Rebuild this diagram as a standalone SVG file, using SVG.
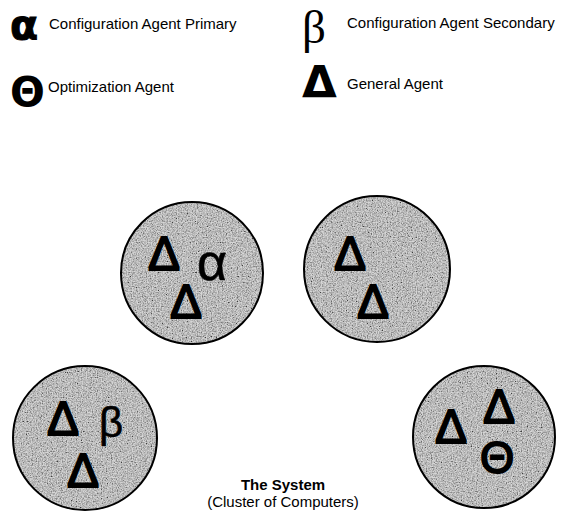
<svg xmlns="http://www.w3.org/2000/svg" width="566" height="515" viewBox="0 0 566 515">
<style>
.lbl{font-family:"Liberation Sans",Arial,sans-serif;font-size:15px;fill:#000}
.tri{font-family:"Liberation Sans",Arial,sans-serif;fill:#000;stroke:#000;stroke-width:1.8px}
.grk{font-family:"Liberation Sans",Arial,sans-serif;fill:#000;stroke:#000;stroke-width:0.6px}
.ser{font-family:"Liberation Serif","Times New Roman",serif;fill:#000}
.bold{font-family:"DejaVu Sans",sans-serif;font-weight:bold;fill:#000}
.comp{fill:#9c9c9c;stroke:none}
.rim{fill:none;stroke:#000;stroke-width:2}
.grain{fill:#fff;filter:url(#noise)}
.cap{font-family:"Liberation Sans",Arial,sans-serif;font-size:15px;fill:#000;text-anchor:middle}
</style>
<defs>
<filter id="noise" x="0" y="0" width="100%" height="100%">
<feTurbulence type="fractalNoise" baseFrequency="0.8" numOctaves="2" seed="7" result="t"/>
<feColorMatrix in="t" type="saturate" values="0" result="g"/>
<feComponentTransfer in="g" result="c">
<feFuncR type="linear" slope="2.6" intercept="-0.68"/>
<feFuncG type="linear" slope="2.6" intercept="-0.68"/>
<feFuncB type="linear" slope="2.6" intercept="-0.68"/>
<feFuncA type="linear" slope="0" intercept="0.6"/>
</feComponentTransfer>
<feComposite in="c" in2="SourceGraphic" operator="in"/>
</filter>
</defs>
<rect width="566" height="515" fill="#fff"/>
<g id="legend">
<g id="legend-primary">
<text class="bold" x="10" y="38.5" font-size="41" stroke="#000" stroke-width="1">α</text>
<text class="lbl" x="49" y="29">Configuration Agent Primary</text>
</g>
<g id="legend-secondary">
<text class="ser" x="302" y="43" font-size="47">β</text>
<text class="lbl" x="347" y="28">Configuration Agent Secondary</text>
</g>
<g id="legend-optimization">
<text class="bold" x="10" y="106" font-size="41">Θ</text>
<text class="lbl" x="48" y="92">Optimization Agent</text>
</g>
<g id="legend-general">
<text class="bold" x="302" y="98" font-size="45">Δ</text>
<text class="lbl" x="347" y="89">General Agent</text>
</g>
</g>
<g id="computer-1">
<circle class="comp" cx="192" cy="273" r="71"/>
<circle class="grain" cx="192" cy="273" r="71"/>
<circle class="rim" cx="192" cy="273" r="71"/>
<text class="tri" x="148" y="270" font-size="48">Δ</text>
<text class="grk" x="197" y="280" font-size="52">α</text>
<text class="tri" x="170" y="318" font-size="48">Δ</text>
</g>
<g id="computer-2">
<circle class="comp" cx="377" cy="269" r="73"/>
<circle class="grain" cx="377" cy="269" r="73"/>
<circle class="rim" cx="377" cy="269" r="73"/>
<text class="tri" x="334" y="270" font-size="48">Δ</text>
<text class="tri" x="357" y="318" font-size="48">Δ</text>
</g>
<g id="computer-3">
<circle class="comp" cx="85" cy="438" r="72"/>
<circle class="grain" cx="85" cy="438" r="72"/>
<circle class="rim" cx="85" cy="438" r="72"/>
<text class="tri" x="47" y="435" font-size="48">Δ</text>
<text class="grk" x="99" y="437" font-size="42">β</text>
<text class="tri" x="67" y="487" font-size="48">Δ</text>
</g>
<g id="computer-4">
<circle class="comp" cx="484" cy="437" r="71"/>
<circle class="grain" cx="484" cy="437" r="71"/>
<circle class="rim" cx="484" cy="437" r="71"/>
<text class="tri" x="435" y="443" font-size="48">Δ</text>
<text class="tri" x="483" y="423" font-size="48">Δ</text>
<text class="tri" x="480" y="473" font-size="44">Θ</text>
</g>
<g id="connectors"/>
<g id="caption">
<text class="cap" x="283" y="490" font-weight="bold">The System</text>
<text class="cap" x="283" y="507">(Cluster of Computers)</text>
</g>
</svg>
